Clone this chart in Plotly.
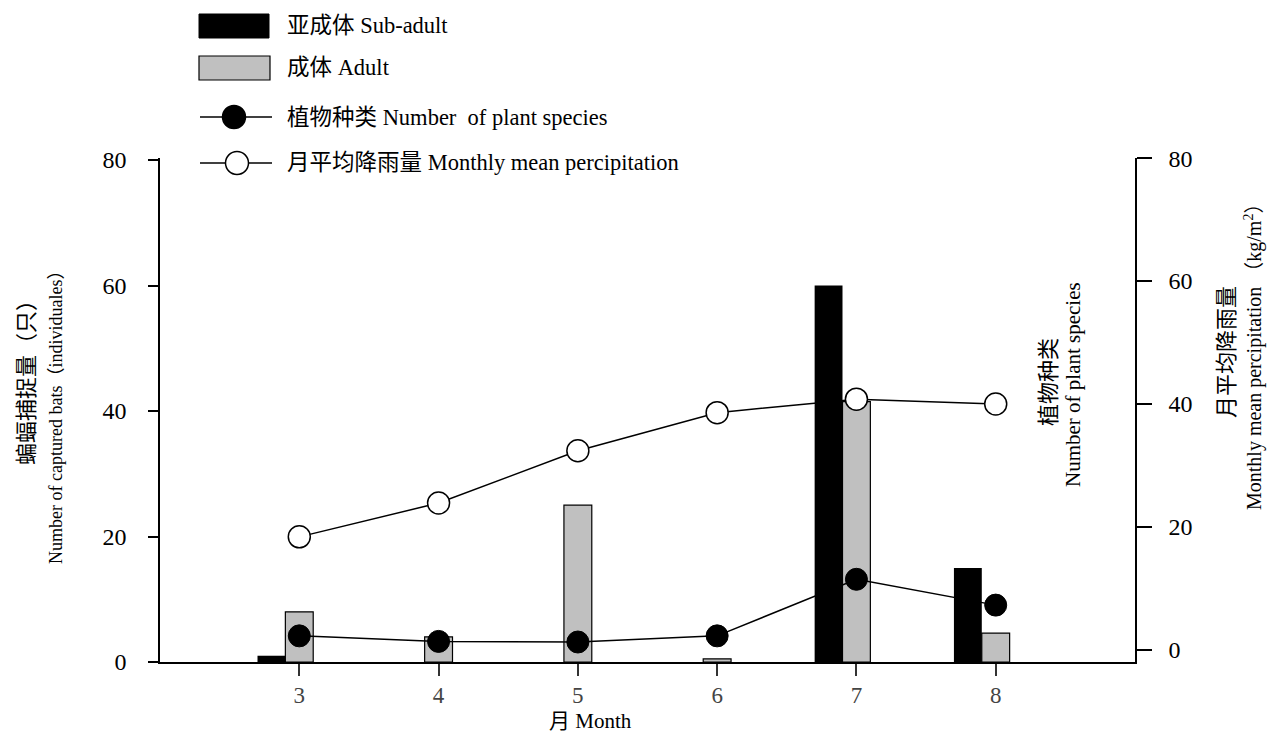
import plotly.graph_objects as go

# ---- data ----
months = [3, 4, 5, 6, 7, 8]
month_labels = ["3", "4", "5", "6", "7", "8"]
sub_adult = [1, 0, 0, 0, 60, 15]
adult = [8, 4, 25, 0.5, 41.5, 4.6]
plant_species = [2.3, 1.4, 1.3, 2.3, 11.5, 7.3]
precipitation = [18.4, 23.9, 32.4, 38.6, 40.8, 40.0]
left_ticks = [0, 20, 40, 60, 80]
right_ticks = [0, 20, 40, 60, 80]

W, H = 1276, 733
L, R, T, B = 160, 1135, 158, 662

def px(X):
    return (X - L) / (R - L)

def py(Y):
    return (B - Y) / (B - T)

SERIF = "Liberation Serif, Times New Roman, Noto Sans CJK SC, serif"
CJK = "Noto Sans CJK SC, sans-serif"

fig = go.Figure()

# adult bars (gray) on primary axis, drawn under lines
fig.add_trace(go.Bar(
    x=months, y=adult, offset=-0.1, width=0.2,
    marker=dict(color="#c0c0c0", line=dict(color="black", width=1.2)),
    yaxis="y", name="成体 Adult", showlegend=False,
))

# lines on right axis
fig.add_trace(go.Scatter(
    x=months, y=precipitation, mode="lines+markers", yaxis="y2",
    line=dict(color="black", width=1.5),
    marker=dict(size=22, color="white", line=dict(color="black", width=1.5)),
    name="月平均降雨量 Monthly mean percipitation", showlegend=False,
))
fig.add_trace(go.Scatter(
    x=months, y=plant_species, mode="lines+markers", yaxis="y2",
    line=dict(color="black", width=1.5),
    marker=dict(size=22, color="black", line=dict(color="black", width=1)),
    name="植物种类 Number of plant species", showlegend=False,
))

# sub-adult bars (black) on an overlay axis so they sit above the lines
fig.add_trace(go.Bar(
    x=months, y=sub_adult, offset=-0.3, width=0.2,
    marker=dict(color="black", line=dict(color="black", width=0)),
    yaxis="y3", name="亚成体 Sub-adult", showlegend=False,
))

left_top = 80 + (160 - T) / ((B - 160) / 80)
right_unit = (650 - 158) / 80
right_bottom = -(B - 650) / right_unit

fig.update_layout(
    width=W, height=H,
    margin=dict(l=L, r=W - R, t=T, b=H - B, pad=0),
    paper_bgcolor="white", plot_bgcolor="white",
    barmode="overlay",
    showlegend=False,
    font=dict(family=SERIF, color="black", size=20),
    xaxis=dict(
        range=[2, 9], tickvals=months, ticktext=month_labels,
        showline=True, linecolor="black", linewidth=1.5,
        ticks="outside", ticklen=12, tickcolor="#333", tickwidth=1.5,
        tickfont=dict(family=SERIF, size=23, color="#444"),
        showgrid=False, zeroline=False,
    ),
    yaxis=dict(
        range=[0, left_top], tickvals=left_ticks,
        showline=True, linecolor="black", linewidth=1.5,
        ticks="outside", ticklen=10, tickcolor="black", tickwidth=1.5,
        tickfont=dict(family=SERIF, size=24, color="black"),
        ticklabelstandoff=17,
        showgrid=False, zeroline=False,
    ),
    yaxis2=dict(
        range=[right_bottom, 80.02], tickvals=right_ticks,
        overlaying="y", side="right",
        showline=True, linecolor="black", linewidth=1.5,
        ticks="outside", ticklen=15, tickcolor="black", tickwidth=1.5,
        tickfont=dict(family=SERIF, size=24, color="black"),
        ticklabelstandoff=12,
        showgrid=False, zeroline=False,
    ),
    yaxis3=dict(
        range=[0, left_top], overlaying="y", visible=False,
        showgrid=False, zeroline=False,
    ),
)

ann = []
def add_text(text, X, Y, size=20, angle=0, xanchor="center", family=SERIF, color="black"):
    ann.append(dict(
        text=text, x=px(X), y=py(Y), xref="paper", yref="paper",
        showarrow=False, textangle=angle, xanchor=xanchor, yanchor="middle",
        font=dict(family=family, size=size, color=color),
    ))

# axis titles
add_text("蝙蝠捕捉量（只）", 24, 377, size=22, angle=-90, family=CJK)
add_text("Number of captured bats（individuales）", 56, 413, size=18, angle=-90)
add_text("植物种类", 1046, 382, size=22, angle=-90, family=CJK)
add_text("Number of plant species", 1073, 385, size=21, angle=-90)
add_text("月平均降雨量", 1224, 352, size=22, angle=-90, family=CJK)
add_text("Monthly mean percipitation （kg/m<sup>2</sup>）", 1253, 352, size=20, angle=-90)
add_text("月 Month", 590, 721, size=21)

# legend texts
legend_cn = ["亚成体", "成体", "植物种类", "月平均降雨量"]
legend_en = ["Sub-adult", "Adult", "Number  of plant species", "Monthly mean percipitation"]
legend_y = [25, 68, 117, 163]
for cn, en, yy in zip(legend_cn, legend_en, legend_y):
    add_text(cn + " " + en.replace("  ", "&nbsp; "), 285, yy, size=22.5, xanchor="left")

fig.update_layout(annotations=ann)

shapes = []
# legend symbols
shapes.append(dict(type="rect", xref="paper", yref="paper",
                   x0=px(199), x1=px(269), y0=py(14), y1=py(38),
                   fillcolor="black", line=dict(color="black", width=1)))
shapes.append(dict(type="rect", xref="paper", yref="paper",
                   x0=px(199), x1=px(270), y0=py(56), y1=py(80),
                   fillcolor="#c0c0c0", line=dict(color="black", width=1.2)))
for yy, cx, fill in [(117, 234, "black"), (163, 237, "white")]:
    shapes.append(dict(type="line", xref="paper", yref="paper",
                       x0=px(200), x1=px(272), y0=py(yy), y1=py(yy),
                       line=dict(color="black", width=1.5)))
    shapes.append(dict(type="circle", xref="paper", yref="paper",
                       x0=px(cx - 11.5), x1=px(cx + 11.5), y0=py(yy - 11.5), y1=py(yy + 11.5),
                       fillcolor=fill, line=dict(color="black", width=1.5)))
fig.update_layout(shapes=shapes)

fig.write_html(
    "out.html",
    config={"displayModeBar": False},
    post_script="document.body.style.margin='0px';document.body.style.overflow='hidden';",
)
